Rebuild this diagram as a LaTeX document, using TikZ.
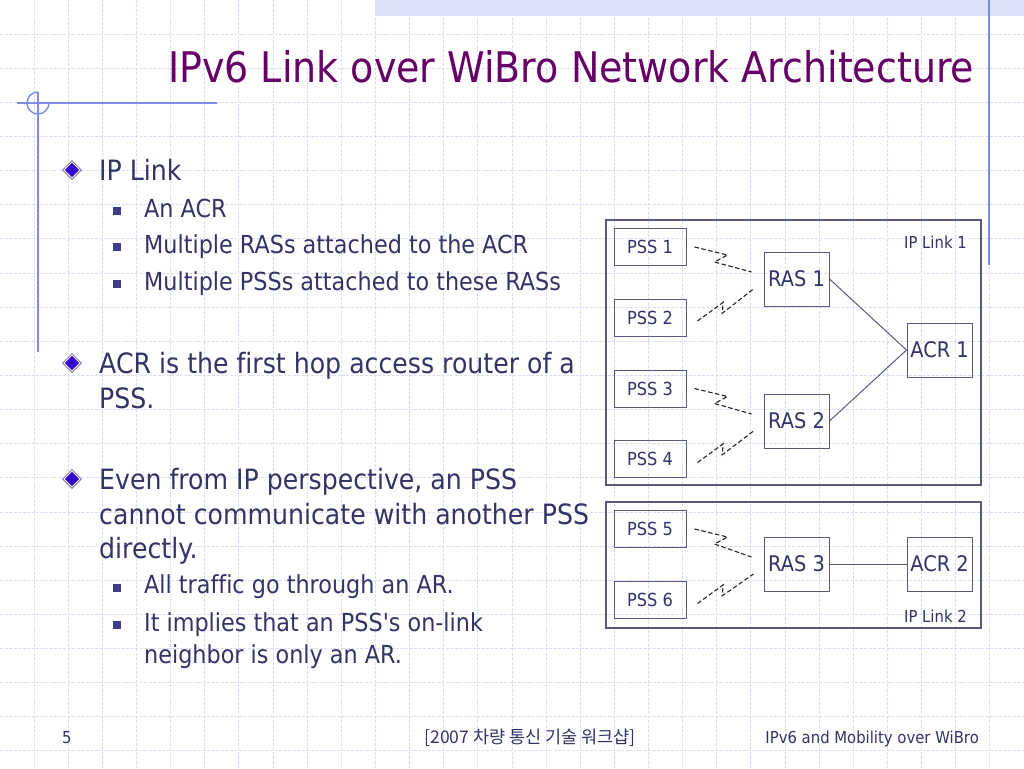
\documentclass[tikz,border=0pt]{standalone}
\usepackage{fontspec}
\newfontfamily\bodyfont{DejaVu Sans}[FakeStretch=0.9,Ligatures=NoCommon]
\newfontfamily\krfont{Noto Sans CJK KR}
\usetikzlibrary{calc}
\definecolor{txt}{RGB}{51,51,102}
\definecolor{ttl}{RGB}{102,0,102}
\definecolor{gridc}{RGB}{218,222,245}
\definecolor{bandc}{RGB}{220,226,247}
\definecolor{decoc}{RGB}{125,140,230}
\definecolor{dblue}{RGB}{51,0,204}
\definecolor{dgray}{RGB}{140,130,165}
\definecolor{sqc}{RGB}{60,60,140}
\definecolor{boxc}{RGB}{90,90,125}
\newcommand\zigup[2]{\draw[wire] ($(#1.east)+(11,3.5)$) -- ($(#1.east)+(36.7,-15.2)$) -- ($(#1.east)+(35.7,-4.2)$) -- ($(#2.west)+(-10,10)$);}
\newcommand\zigdown[2]{\draw[wire] ($(#1.east)+(8,0)$) -- ($(#1.east)+(41,8)$) -- ($(#1.east)+(28,15)$) -- ($(#2.west)+(-12,-7)$);}
\newcommand\diamondbullet[2]{%
  \fill[dgray] (#1,#2-10) -- (#1+10,#2) -- (#1,#2+10) -- (#1-10,#2) -- cycle;
  \fill[white] (#1,#2-8.3) -- (#1+8.3,#2) -- (#1,#2+8.3) -- (#1-8.3,#2) -- cycle;
  \fill[dblue] (#1,#2-7.2) -- (#1+7.2,#2) -- (#1,#2+7.2) -- (#1-7.2,#2) -- cycle;}
\newcommand\squarebullet[2]{\fill[sqc] (#1-4,#2-4) rectangle (#1+4,#2+4);}
\begin{document}
\begin{tikzpicture}[x=1pt,y=-1pt,
  gridline/.style={draw=gridc,line width=0.9pt,dash pattern=on 3pt off 1.5pt},
  deco/.style={draw=decoc,line width=1.4pt},
  lvlone/.style={anchor=base west,inner sep=0pt,text=txt,font=\bodyfont\fontsize{28}{34}\selectfont},
  lvltwo/.style={anchor=base west,inner sep=0pt,text=txt,font=\bodyfont\fontsize{24.8}{29}\selectfont},
  dev/.style={draw=boxc,line width=1pt,text=txt,inner sep=0pt,minimum width=72pt,minimum height=37pt,font=\bodyfont\fontsize{18}{20}\selectfont},
  ras/.style={draw=boxc,line width=1pt,text=txt,inner sep=0pt,minimum width=65pt,minimum height=54pt,font=\bodyfont\fontsize{21.5}{24}\selectfont},
  linkbox/.style={draw=boxc,line width=1.2pt},
  linklabel/.style={anchor=base east,inner sep=0pt,text=txt,font=\bodyfont\fontsize{16.5}{18}\selectfont},
  wire/.style={draw=black!85,line width=1.1pt,dash pattern=on 4.5pt off 2.5pt},
  solidlink/.style={draw=boxc,line width=1pt},
  foot/.style={inner sep=0pt,text=txt,font=\bodyfont\fontsize{16.5}{18}\selectfont}]
\useasboundingbox (0,0) rectangle (1024,768);
\fill[white] (0,0) rectangle (1024,768);
% background grid
\foreach \i in {1,...,29} \draw[gridline] ({\i*34.1333},0) -- ({\i*34.1333},768);
\foreach \j in {1,...,22} \draw[gridline] (0,{\j*34.1333}) -- (1024,{\j*34.1333});
% top band and decorations
\fill[bandc] (375,0) rectangle (1024,16);
\draw[deco] (989,0) -- (989,265);
\draw[deco] (17,103) -- (217,103);
\draw[deco] (38,92) -- (38,352);
\draw[deco] (38,92) arc[start angle=270,end angle=0,radius=11];
% title
\node[anchor=base west,inner sep=0pt,text=ttl,font=\bodyfont\fontsize{42.2}{48}\selectfont] (title) at (168,82) {IPv6 Link over WiBro Network Architecture};
% bullets
\diamondbullet{72}{170}
\node[lvlone] (t1) at (99,180) {IP Link};
\squarebullet{117}{211}
\node[lvltwo] (t2) at (144,217) {An ACR};
\squarebullet{117}{247}
\node[lvltwo] (t3) at (144,253) {Multiple RASs attached to the ACR};
\squarebullet{117}{284}
\node[lvltwo] (t4) at (144,290) {Multiple PSSs attached to these RASs};
\diamondbullet{72}{363}
\node[lvlone] (t5) at (99,373) {ACR is the first hop access router of a};
\node[lvlone] (t6) at (99,408) {PSS.};
\diamondbullet{72}{479}
\node[lvlone] (t7) at (99,489) {Even from IP perspective, an PSS};
\node[lvlone] (t8) at (99,524) {cannot communicate with another PSS};
\node[lvlone] (t9) at (99,558) {directly.};
\squarebullet{117}{588}
\node[lvltwo] (t10) at (144,593) {All traffic go through an AR.};
\squarebullet{117}{625}
\node[lvltwo] (t11) at (144,631) {It implies that an PSS's on-link};
\node[lvltwo] (t12) at (144,663) {neighbor is only an AR.};
% diagram: IP Link 1
\draw[linkbox] (606,220) rectangle (981,485);
\node[linklabel] (lab1) at (967,248) {IP Link 1};
\node[dev] (pss1) at (650,247) {PSS 1};
\node[dev] (pss2) at (650,317.5) {PSS 2};
\node[dev] (pss3) at (650,388.5) {PSS 3};
\node[dev] (pss4) at (650,459) {PSS 4};
\node[ras] (ras1) at (796.5,279) {RAS 1};
\node[ras] (ras2) at (796.5,421) {RAS 2};
\node[ras] (acr1) at (939.5,350) {ACR 1};
\draw[solidlink] (ras1.east) -- (acr1.west);
\draw[solidlink] (ras2.east) -- (acr1.west);
\zigdown{pss1}{ras1}
\zigup{pss2}{ras1}
\zigdown{pss3}{ras2}
\zigup{pss4}{ras2}
% diagram: IP Link 2
\draw[linkbox] (606,502) rectangle (981,628);
\node[linklabel] (lab2) at (967,622) {IP Link 2};
\node[dev] (pss5) at (650,529) {PSS 5};
\node[dev] (pss6) at (650,600) {PSS 6};
\node[ras] (ras3) at (796.5,564) {RAS 3};
\node[ras] (acr2) at (939.5,564) {ACR 2};
\draw[solidlink] (ras3.east) -- (acr2.west);
\zigdown{pss5}{ras3}
\zigup{pss6}{ras3}
% footer
\node[foot,anchor=base west] (pg) at (62,743) {5};
\node[foot,anchor=base,font=\krfont\fontsize{17.5}{20}\selectfont] (ev) at (530,743) {[2007 차량 통신 기술 워크샵]};
\node[foot,anchor=base east] (ft) at (979,743) {IPv6 and Mobility over WiBro};
\end{tikzpicture}
\end{document}
